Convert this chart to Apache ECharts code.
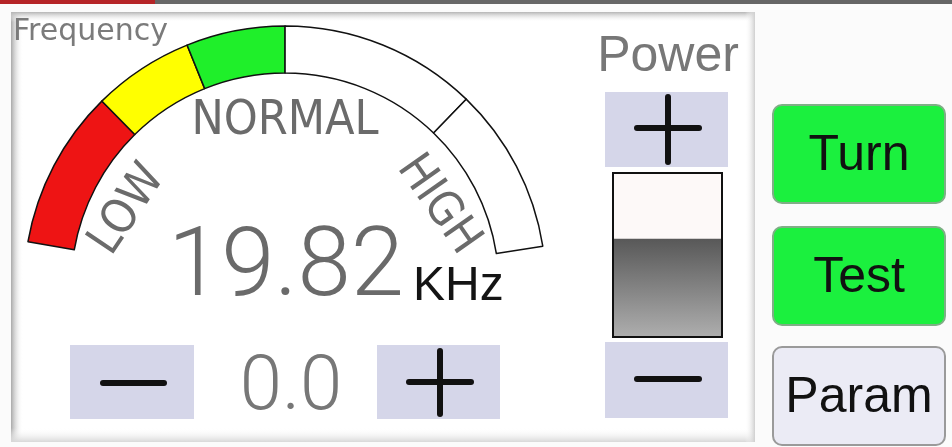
<!doctype html>
<html>
<head>
    <meta charset="UTF-8">
    <title>frequency_panel</title>
    <script src="https://cdn.jsdelivr.net/npm/echarts@6/dist/echarts.min.js"></script>
    <style>
        html, body {
            margin: 0;
            padding: 0;
            background: #fbfbfb;
        }
        #main {
            width: 952px;
            height: 447px;
        }
    </style>
</head>
<body>
    <div id="main"></div>

    <script>
        // values
        var bandNames = ['low', 'caution', 'normal', 'high', 'over'];
        var bandSpans = [22.0, 14.0, 13.7, 27.3, 23.0];   // share of the arc, 0..100
        var zoneLabels = ['LOW', 'NORMAL', 'HIGH'];
        var frequencyKHz = 19.82;
        var offsetValue = 0.0;
        var powerLevel = [60];
        var buttonLabels = ['Turn', 'Test', 'Param'];

        var bandColors = ['#ee1414', '#ffff00', '#1fef2a', '#ffffff', '#ffffff'];
        var arcStart = 170, arcEnd = 9;

        var arcSpan = arcStart - arcEnd;
        var arcTotal = bandSpans.reduce(function (a, b) { return a + b; }, 0);
        var pieData = bandSpans.map(function (v, i) {
            return {
                name: bandNames[i],
                value: v,
                itemStyle: { color: bandColors[i], borderColor: '#111', borderWidth: 1.5 }
            };
        });
        // invisible rest of the circle under the arc
        pieData.push({
            name: 'gap',
            value: arcTotal * (360 - arcSpan) / arcSpan,
            itemStyle: { color: 'rgba(0,0,0,0)', borderWidth: 0 }
        });

        var txtFont = '"Liberation Sans", Arial, sans-serif';
        var narrowFont = '"Liberation Sans Narrow", "DejaVu Sans Condensed", sans-serif';
        var thinFont = 'Roboto, sans-serif';

        function edge(x, y, w, h, x2, y2, c1, c2) {
            return {
                type: 'rect', z: -5, silent: true,
                shape: { x: x, y: y, width: w, height: h },
                style: {
                    fill: new echarts.graphic.LinearGradient(0, 0, x2, y2, [
                        { offset: 0, color: c1 }, { offset: 1, color: c2 }
                    ])
                }
            };
        }

        function keyBox(x, y, w, h) {
            return {
                type: 'rect', z: -1, silent: true,
                shape: { x: x, y: y, width: w, height: h },
                style: { fill: '#d5d6e9' }
            };
        }

        function bar(x1, y1, x2, y2) {
            return {
                type: 'line', z: 5, silent: true,
                shape: { x1: x1, y1: y1, x2: x2, y2: y2 },
                style: { stroke: '#111', lineWidth: 6, lineCap: 'round' }
            };
        }

        function button(y, label, fill, stroke) {
            return [{
                type: 'rect', z: -1, silent: true,
                shape: { x: 773, y: y, width: 172, height: 98, r: 9 },
                style: { fill: fill, stroke: stroke, lineWidth: 2 }
            }, {
                type: 'text', z: 5, silent: true,
                x: 859, y: y + 51,
                style: {
                    text: label, fill: '#111', font: '50px ' + txtFont,
                    textAlign: 'center', textVerticalAlign: 'middle'
                }
            }];
        }

        var graphics = [
            // top strip
            { type: 'rect', z: -5, shape: { x: 0, y: 0, width: 952, height: 4 }, style: { fill: '#666' } },
            { type: 'rect', z: -4, shape: { x: 0, y: 0, width: 155, height: 4 }, style: { fill: '#b52427' } },
            // main panel
            { type: 'rect', z: -6, shape: { x: 11, y: 12, width: 744, height: 430 }, style: { fill: '#ffffff' } },
            edge(11, 12, 12, 430, 1, 0, '#a9a9a9', 'rgba(255,255,255,0)'),
            edge(11, 12, 744, 10, 0, 1, '#b5b5b5', 'rgba(255,255,255,0)'),
            edge(11, 428, 744, 14, 0, 1, 'rgba(255,255,255,0)', '#d8d8d8'),
            edge(745, 12, 10, 430, 1, 0, 'rgba(255,255,255,0)', '#cfcfcf'),

            { type: 'text', z: 5, silent: true, x: 13, y: 32,
              style: { text: 'Frequency', fill: '#7b7b7b', font: '30px "DejaVu Sans", sans-serif',
                       textAlign: 'left', textVerticalAlign: 'middle' } },
            { type: 'text', z: 5, silent: true, x: 285, y: 122,
              style: { text: zoneLabels[1], fill: '#6b6b6b', font: '48px ' + narrowFont,
                       textAlign: 'center', textVerticalAlign: 'middle' } },
            { type: 'text', z: 5, silent: true, x: 128, y: 210, rotation: 56 * Math.PI / 180,
              style: { text: zoneLabels[0], fill: '#6b6b6b', font: '47px ' + narrowFont,
                       textAlign: 'center', textVerticalAlign: 'middle' } },
            { type: 'text', z: 5, silent: true, x: 438, y: 205, rotation: -55 * Math.PI / 180,
              style: { text: zoneLabels[2], fill: '#6b6b6b', font: '47px ' + narrowFont,
                       textAlign: 'center', textVerticalAlign: 'middle' } },

            { type: 'text', z: 5, silent: true, x: 168, y: 271,
              style: { text: frequencyKHz.toFixed(2), fill: '#6a6a6a', font: '300 96px ' + thinFont,
                       textAlign: 'left', textVerticalAlign: 'middle' } },
            { type: 'text', z: 5, silent: true, x: 413, y: 287,
              style: { text: 'KHz', fill: '#141414', font: '48px ' + txtFont,
                       textAlign: 'left', textVerticalAlign: 'middle' } },

            // offset keys
            keyBox(70, 345, 124, 74),
            bar(103, 383, 164, 383),
            { type: 'text', z: 5, silent: true, x: 291, y: 390,
              style: { text: offsetValue.toFixed(1), fill: '#777', font: '300 76px ' + thinFont,
                       textAlign: 'center', textVerticalAlign: 'middle' } },
            keyBox(377, 345, 123, 74),
            bar(409, 382, 471, 382),
            bar(440, 351, 440, 414),

            // power
            { type: 'text', z: 5, silent: true, x: 668, y: 57,
              style: { text: 'Power', fill: '#777', font: '50px ' + txtFont,
                       textAlign: 'center', textVerticalAlign: 'middle' } },
            keyBox(605, 92, 123, 75),
            bar(637, 128, 699, 128),
            bar(668, 97, 668, 162),
            { type: 'rect', z: -1, silent: true, shape: { x: 613, y: 173, width: 109, height: 164 },
              style: { fill: '#fdf9f8' } },
            { type: 'rect', z: 10, silent: true, shape: { x: 613, y: 173, width: 109, height: 164 },
              style: { fill: 'none', stroke: '#111', lineWidth: 2 } },
            keyBox(605, 342, 123, 76),
            bar(637, 379, 699, 379)
        ];

        graphics = graphics
            .concat(button(105, buttonLabels[0], '#1bf03e', '#7fae86'))
            .concat(button(227, buttonLabels[1], '#1bf03e', '#7fae86'))
            .concat(button(347, buttonLabels[2], '#ebebf5', '#9a9a9a'));

        var myChart = echarts.init(document.getElementById('main'));

        myChart.setOption({
            animation: false,
            graphic: graphics,
            grid: { left: 614, top: 174, width: 107, height: 162 },
            xAxis: { type: 'category', data: ['power'], show: false },
            yAxis: { type: 'value', min: 0, max: 100, show: false },
            series: [{
                type: 'pie',
                silent: true,
                center: [285, 287],
                radius: [214, 261],
                startAngle: arcStart,
                clockwise: true,
                label: { show: false },
                labelLine: { show: false },
                data: pieData
            }, {
                type: 'bar',
                silent: true,
                barWidth: '100%',
                data: powerLevel,
                itemStyle: {
                    color: new echarts.graphic.LinearGradient(0, 0, 0, 1, [
                        { offset: 0, color: '#585858' },
                        { offset: 1, color: '#adadad' }
                    ])
                }
            }]
        });
    </script>
</body>
</html>
